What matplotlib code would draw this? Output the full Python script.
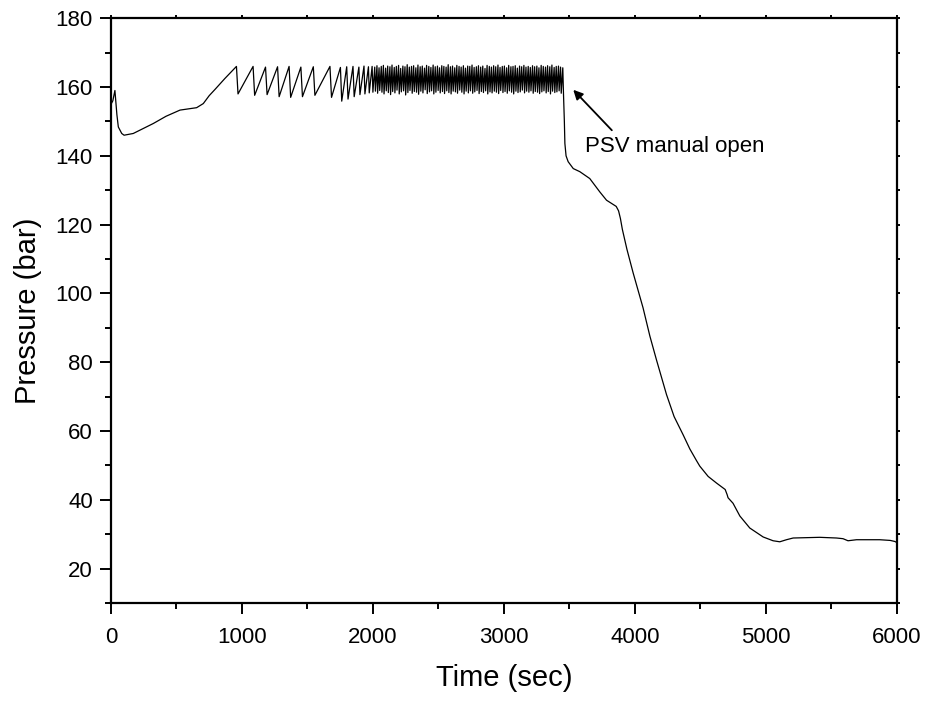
import matplotlib
matplotlib.use("Agg")
import matplotlib.pyplot as plt
from matplotlib.ticker import MultipleLocator

plt.rcParams["font.family"] = ["Liberation Sans", "DejaVu Sans"]

# initial transient and slow pressurisation
start_t = [0, 14, 30, 45, 56, 82, 100, 170, 250, 323, 420, 527, 600, 654, 705, 750, 794, 870, 958]
start_p = [155.0, 156.0, 159.0, 152.0, 148.4, 146.5, 146.0, 146.5, 148.0, 149.4, 151.5, 153.3,
           153.7, 154.0, 155.2, 157.5, 159.3, 162.5, 166.0]

# relief valve cycling: peak (valve lifts) then drop to trough (valve reseats)
peak_t = [958, 1085, 1180, 1272, 1360, 1450, 1545, 1672, 1752, 1800, 1848, 1893, 1932, 1966, 1994,
          2014, 2031, 2047, 2064, 2080, 2097, 2113, 2130, 2146, 2163, 2179,
          2196, 2212, 2229, 2245, 2262, 2278, 2295, 2311, 2328, 2344, 2361,
          2377, 2394, 2410, 2427, 2443, 2460, 2476, 2493, 2509, 2526, 2542,
          2559, 2575, 2592, 2608, 2625, 2641, 2658, 2674, 2691, 2707, 2724,
          2740, 2757, 2773, 2790, 2806, 2823, 2839, 2856, 2872, 2889, 2905,
          2922, 2938, 2955, 2971, 2988, 3004, 3021, 3037, 3054, 3070, 3087,
          3103, 3120, 3136, 3153, 3169, 3186, 3202, 3219, 3235, 3252, 3268,
          3285, 3301, 3318, 3334, 3351, 3367, 3384, 3400, 3417, 3433, 3450]
peak_p = [166.0, 166.0, 165.8, 165.9, 166.0, 165.8, 165.9, 166.0, 165.7, 165.9, 166.0, 165.8, 166.1, 165.9, 166.0,
          165.8, 166.2, 165.6, 166.0, 166.3, 165.5, 166.1, 165.9, 166.4, 165.7, 166.0,
          166.3, 165.4, 166.1, 165.9, 166.5, 165.8, 166.0, 166.2, 165.6, 166.4, 165.9,
          166.1, 165.5, 166.3, 166.0, 165.7, 166.4, 165.9, 166.1, 165.6, 166.2, 166.0,
          165.8, 166.5, 165.9, 166.1, 165.6, 166.3, 166.0, 165.8, 166.2, 165.5, 166.1,
          166.0, 166.4, 165.7, 165.9, 166.2, 165.8, 166.1, 165.4, 166.3, 166.0, 165.8,
          166.2, 165.9, 166.4, 165.7, 166.0, 166.1, 165.6, 166.3, 165.9, 166.0, 166.2,
          165.5, 166.1, 165.9, 166.3, 165.8, 166.0, 165.7, 166.2, 165.9, 166.1, 165.6,
          166.3, 166.0, 165.8, 166.2, 165.9, 166.4, 165.7, 166.0, 166.1, 165.8, 165.6]
trough_t = [970, 1097, 1192, 1284, 1372, 1462, 1557, 1684, 1762, 1810, 1857, 1901, 1939, 1972, 2000,
            2019, 2036, 2052, 2069, 2085, 2102, 2118, 2135, 2151, 2168, 2184,
            2201, 2217, 2234, 2250, 2267, 2283, 2300, 2316, 2333, 2349, 2366,
            2382, 2399, 2415, 2432, 2448, 2465, 2481, 2498, 2514, 2531, 2547,
            2564, 2580, 2597, 2613, 2630, 2646, 2663, 2679, 2696, 2712, 2729,
            2745, 2762, 2778, 2795, 2811, 2828, 2844, 2861, 2877, 2894, 2910,
            2927, 2943, 2960, 2976, 2993, 3009, 3026, 3042, 3059, 3075, 3092,
            3108, 3125, 3141, 3158, 3174, 3191, 3207, 3224, 3240, 3257, 3273,
            3290, 3306, 3323, 3339, 3356, 3372, 3389, 3405, 3422, 3438, 3455]
trough_p = [158.0, 157.6, 157.8, 157.2, 157.0, 157.2, 157.6, 157.0, 155.9, 156.5, 157.2, 157.8, 158.0, 158.3, 158.5,
            158.8, 158.2, 159.0, 158.5, 158.0, 158.9, 158.4, 157.8, 158.7, 158.3, 159.1,
            158.0, 158.6, 158.9, 157.7, 158.4, 159.0, 158.2, 158.7, 158.5, 157.9, 158.8,
            158.3, 159.2, 158.1, 158.6, 158.9, 158.0, 158.5, 159.0, 158.3, 158.7, 158.1,
            158.9, 158.4, 158.0, 158.8, 158.6, 158.2, 159.1, 158.5, 158.0, 158.8, 158.3,
            158.9, 158.2, 158.6, 159.0, 158.1, 158.7, 158.4, 158.9, 158.0, 158.6, 158.3,
            158.8, 158.5, 158.1, 159.0, 158.4, 158.7, 158.2, 158.9, 158.5, 158.0, 158.8,
            158.4, 158.6, 159.1, 158.3, 158.8, 158.5, 158.9, 158.2, 158.7, 158.5, 158.1,
            158.6, 158.9, 158.3, 158.7, 158.0, 158.8, 158.4, 158.6, 158.9, 158.2, 158.5]

# manual opening of the PSV and blowdown
blow_t = [3462, 3466, 3475, 3491, 3530, 3580, 3656, 3733, 3784, 3830, 3858, 3876, 3890, 3905, 3940,
          3987, 4063, 4115, 4166, 4242, 4300, 4369, 4420, 4471, 4496, 4560, 4623, 4690, 4705, 4712,
          4750, 4802, 4878, 4980, 5056, 5107, 5158, 5209, 5300, 5412, 5540, 5590, 5628, 5693, 5870,
          5950, 5985, 6000]
blow_p = [150.0, 143.6, 140.0, 138.3, 136.3, 135.4, 133.4, 129.5, 127.1, 126.0, 125.3, 124.0, 121.8,
          118.6, 112.8, 106.0, 95.8, 87.6, 80.6, 70.6, 64.2, 58.9, 54.8, 51.4, 49.8, 46.8, 44.9, 43.0,
          41.5, 40.6, 39.0, 35.3, 31.8, 29.2, 28.1, 27.8, 28.4, 28.9, 29.0, 29.1, 28.9, 28.7, 28.1,
          28.4, 28.4, 28.2, 27.9, 27.6]

t = list(start_t[:-1])
p = list(start_p[:-1])
for pt, pp, tt, tp in zip(peak_t, peak_p, trough_t, trough_p):
    t += [pt, tt]
    p += [pp, tp]
t += blow_t
p += blow_p

fig = plt.figure(figsize=(9.28, 7.02), dpi=100)
ax = fig.add_axes([0.1196, 0.141, 0.8467, 0.833])
ax.plot(t, p, color="black", linewidth=0.9)

ax.set_xlim(0, 6000)
ax.set_ylim(10, 180)
ax.xaxis.set_major_locator(MultipleLocator(1000))
ax.xaxis.set_minor_locator(MultipleLocator(500))
ax.yaxis.set_minor_locator(MultipleLocator(10))
ax.set_yticks(range(20, 181, 20))

for s in ax.spines.values():
    s.set_linewidth(1.6)
ax.tick_params(which="major", direction="out", length=8, width=1.4, labelsize=16)
ax.tick_params(which="minor", direction="out", length=4.5, width=1.4)
ax.tick_params(axis="x", which="major", pad=9)
ax.tick_params(axis="y", which="major", pad=5)
ax.tick_params(which="both", top=True, right=True, labeltop=False, labelright=False)
for tl in ax.xaxis.get_ticklines(minor=False)[1::2] + ax.xaxis.get_ticklines(minor=True)[1::2]:
    tl.set_markersize(2)
for tl in ax.yaxis.get_ticklines(minor=False)[1::2] + ax.yaxis.get_ticklines(minor=True)[1::2]:
    tl.set_markersize(2)

ax.set_xlabel("Time (sec)", fontsize=21, labelpad=12)
ax.set_ylabel("Pressure (bar)", fontsize=21, labelpad=10)

ax.annotate("PSV manual open", xy=(3530, 159.2), xytext=(3620, 142.7),
            fontsize=16, va="center", ha="left",
            arrowprops=dict(arrowstyle="-|>", color="black", lw=1.3,
                            shrinkA=3, shrinkB=0, mutation_scale=14,
                            relpos=(0.18, 1.0)))

fig.savefig("out.png", dpi=100)
